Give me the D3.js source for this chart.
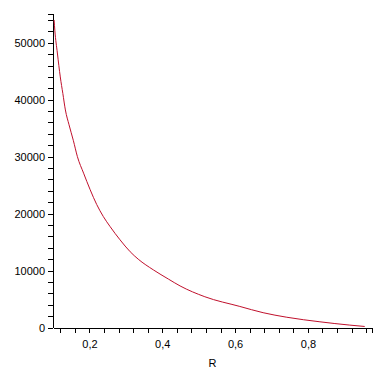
<!DOCTYPE html>
<html lang="en">
<head>
<meta charset="UTF-8">
<title>R plot</title>
<script src="https://d3js.org/d3.v7.min.js"></script>
<style>
  body { margin: 0; background: #fff; }
  text { font-family: "Liberation Sans", Arial, sans-serif; font-size: 11px; fill: #000; }
  .domain, .tick line { stroke: #000; stroke-width: 1px; shape-rendering: crispEdges; }
</style>
</head>
<body>
<script>
// values
var rValues = [0.103, 0.105, 0.112, 0.120, 0.127, 0.134, 0.144, 0.156, 0.167, 0.184, 0.202,
               0.220, 0.238, 0.257, 0.284, 0.312, 0.334, 0.376, 0.417, 0.449, 0.517, 0.613,
               0.677, 0.742, 0.833, 0.915, 0.956];
var fValues = [54000, 52200, 48200, 44000, 41100, 38200, 35600, 32800, 30000, 27100, 24200,
               21600, 19500, 17700, 15400, 13300, 12000, 10100, 8500, 7300, 5400, 3700,
               2600, 1800, 1000, 420, 180];

var xMajor = [0.2, 0.4, 0.6, 0.8];
var xMinor = [0.12, 0.16, 0.2, 0.24, 0.28, 0.32, 0.36, 0.4, 0.44, 0.48, 0.52, 0.56, 0.6,
              0.64, 0.68, 0.72, 0.76, 0.8, 0.84, 0.88, 0.92, 0.96, 0.976];
var yMajor = [0, 10000, 20000, 30000, 40000, 50000];
var yMinor = d3.range(0, 55000, 2000).concat([55100]);

var width = 381, height = 374;

var x = d3.scaleLinear().domain([0.1, 0.976]).range([53, 372]);
var y = d3.scaleLinear().domain([0, 55100]).range([327.5, 13.7]);

var svg = d3.select("body").append("svg")
  .attr("width", width)
  .attr("height", height);

// x axis, labels only on the major ticks, comma decimals
svg.append("g")
  .attr("transform", "translate(0," + y(0) + ")")
  .call(d3.axisBottom(x)
    .tickValues(xMinor)
    .tickSize(5)
    .tickSizeOuter(0)
    .tickPadding(8)
    .tickFormat(function(d) {
      var isMajor = xMajor.some(function(m) { return Math.abs(m - d) < 1e-6; });
      return isMajor ? d3.format(".1f")(d).replace(".", ",") : "";
    }));

svg.append("g")
  .attr("transform", "translate(" + x(0.1) + ",0)")
  .call(d3.axisLeft(y)
    .tickValues(yMinor)
    .tickSize(5)
    .tickSizeOuter(0)
    .tickPadding(3)
    .tickFormat(function(d) { return yMajor.indexOf(d) >= 0 ? d : ""; }));

svg.selectAll(".tick text").attr("font-family", null).attr("font-size", null);

// axis title
svg.append("text")
  .attr("x", (x.range()[0] + x.range()[1]) / 2)
  .attr("y", 367)
  .attr("text-anchor", "middle")
  .text("R");

// the curve
var pts = rValues.map(function(r, i) { return [r, fValues[i]]; });
var line = d3.line()
  .x(function(d) { return x(d[0]); })
  .y(function(d) { return y(d[1]); })
  .curve(d3.curveMonotoneX);

svg.append("path")
  .datum(pts)
  .attr("fill", "none")
  .attr("stroke", "#c0102c")
  .attr("stroke-width", 1)
  .attr("d", line);
</script>
</body>
</html>
